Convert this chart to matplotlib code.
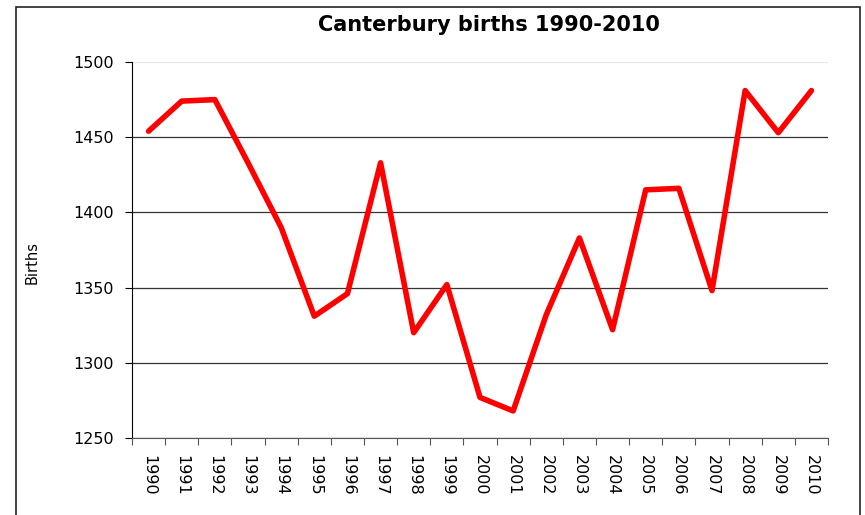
import matplotlib.pyplot as plt
from matplotlib.patches import Rectangle
from matplotlib.ticker import FixedLocator

# data
years = [str(y) for y in range(1990, 2011)]
births = [1454, 1474, 1475, 1433, 1390, 1331, 1346, 1433, 1320, 1352,
          1277, 1268, 1332, 1383, 1322, 1415, 1416, 1348, 1481, 1453, 1481]
y_ticks = [1250, 1300, 1350, 1400, 1450, 1500]

fig = plt.figure(figsize=(8.65, 5.15), dpi=100)
ax = fig.add_axes([132/865, 1 - 438/515, (828 - 132)/865, (438 - 62)/515])

# outer chart border
fig.patches.append(Rectangle((16/865, -0.05), (860 - 16)/865, 1.05 - 7/515,
                             transform=fig.transFigure, fill=False,
                             edgecolor="#222222", linewidth=1.2))

x = list(range(len(years)))
ax.plot(x, births, color="#ff0000", linewidth=4.0, solid_joinstyle="round",
        solid_capstyle="round", zorder=3)

ax.set_xlim(-0.5, len(years) - 0.5)
ax.set_ylim(1250, 1500)
ax.set_yticks(y_ticks)
ax.set_yticklabels([str(v) for v in y_ticks], fontsize=11.5)

# ticks between categories, labels at centres
ax.xaxis.set_major_locator(FixedLocator([i - 0.5 for i in range(len(years) + 1)]))
ax.set_xticklabels([])
ax.xaxis.set_minor_locator(FixedLocator(x))
ax.set_xticklabels(years, minor=True, rotation=270, fontsize=11.5)
ax.tick_params(axis="x", which="minor", length=0, pad=12)
ax.tick_params(axis="x", which="major", length=5, color="#555555")
ax.tick_params(axis="y", length=5, pad=8)

ax.yaxis.grid(True, color="#333333", linewidth=0.9)
ax.yaxis.get_gridlines()[-1].set_color("#e8e8e8")
ax.set_axisbelow(True)

for s in ["top", "right"]:
    ax.spines[s].set_visible(False)
ax.spines["bottom"].set_color("#555555")
ax.spines["left"].set_color("#000000")

ax.set_ylabel("Births", fontsize=10.5)
ax.yaxis.set_label_coords(-(132 - 40)/696, 1 - (262 - 62)/376)
fig.text(489/865, 1 - 25/515, "Canterbury births 1990-2010", ha="center",
         va="center", fontsize=15, fontweight="bold")

fig.savefig("out.png", dpi=100)
